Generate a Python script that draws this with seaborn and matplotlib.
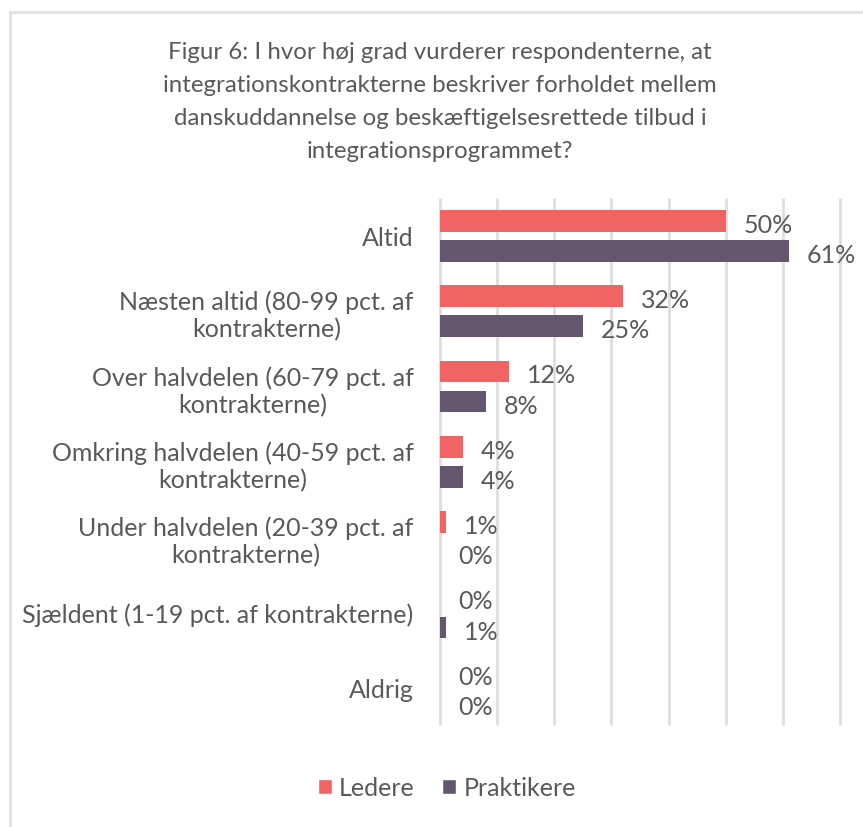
import matplotlib.pyplot as plt
import pandas as pd
import seaborn as sns
from matplotlib.lines import Line2D

# DATA
kategorier = [
    "Altid",
    "Næsten altid (80-99 pct. af\nkontrakterne)",
    "Over halvdelen (60-79 pct. af\nkontrakterne)",
    "Omkring halvdelen (40-59 pct. af\nkontrakterne)",
    "Under halvdelen (20-39 pct. af\nkontrakterne)",
    "Sjældent (1-19 pct. af kontrakterne)",
    "Aldrig",
]
ledere = [50, 32, 12, 4, 1, 0, 0]
praktikere = [61, 25, 8, 4, 0, 1, 0]
grupper = ["Ledere", "Praktikere"]
farver = ["#F16464", "#655670"]
titel = (
    "Figur 6: I hvor høj grad vurderer respondenterne, at\n"
    "integrationskontrakterne beskriver forholdet mellem\n"
    "danskuddannelse og beskæftigelsesrettede tilbud i\n"
    "integrationsprogrammet?"
)

df = pd.DataFrame(
    {
        "kategori": kategorier * 2,
        "andel": ledere + praktikere,
        "gruppe": [grupper[0]] * len(kategorier) + [grupper[1]] * len(kategorier),
    }
)

sns.set_style("white")
plt.rcParams["font.family"] = ["Lato", "DejaVu Sans"]
tekst_farve = "#595959"

fig = plt.figure(figsize=(8.63, 8.28), dpi=100)
ax = fig.add_axes([440 / 863, 1 - 725 / 828, 400 / 863, 525 / 828])

sns.barplot(
    data=df,
    y="kategori",
    x="andel",
    hue="gruppe",
    orient="h",
    palette=farver,
    saturation=1,
    linewidth=0,
    width=0.8,
    gap=0.28,
    errorbar=None,
    legend=False,
    ax=ax,
)

# dataetiketter, lidt ned så de flugter med søjlerne
for c in ax.containers:
    etiketter = ax.bar_label(c, fmt="%.0f%%", padding=13, fontsize=18, color=tekst_farve)
    for t in etiketter:
        t.xyann = (13, -2.5)

ax.set_xlim(0, 70)
ax.set_xticks(range(0, 71, 10))
ax.set_ylim(6.48, -0.49)
ax.set_axisbelow(True)
ax.grid(axis="x", color="#DEDEDE", linewidth=2)
for gl in ax.get_xgridlines():
    gl.set_clip_on(False)
ax.tick_params(axis="x", length=0, labelbottom=False)
ax.tick_params(axis="y", length=0, pad=19, labelsize=18, labelcolor=tekst_farve)
for lbl in ax.get_yticklabels():
    lbl.set_multialignment("center")
    lbl.set_linespacing(1.2)
ax.set_xlabel("")
ax.set_ylabel("")
sns.despine(ax=ax, left=True, bottom=True)

# titel
fig.text(
    440 / 863,
    1 - 102 / 828,
    titel,
    ha="center",
    va="center",
    multialignment="center",
    fontsize=17.3,
    linespacing=1.72,
    color=tekst_farve,
)

# forklaring
handles = [
    plt.Rectangle((0, 0), 1, 1, facecolor=farver[0]),
    plt.Rectangle((0, 0), 1, 1, facecolor=farver[1]),
]
fig.legend(
    handles,
    grupper,
    loc="center",
    bbox_to_anchor=(447 / 863, 1 - 789 / 828),
    ncol=2,
    frameon=False,
    fontsize=18,
    handlelength=0.55,
    handleheight=0.55,
    handletextpad=0.3,
    columnspacing=1.1,
    labelcolor=tekst_farve,
)

# grå ramme (venstre og top)
fig.add_artist(Line2D([9.5 / 863, 9.5 / 863], [0, 1 - 13 / 828], color="#E4E4E4", linewidth=2.2, transform=fig.transFigure))
fig.add_artist(Line2D([9.5 / 863, 1], [1 - 13 / 828, 1 - 13 / 828], color="#E4E4E4", linewidth=2.2, transform=fig.transFigure))

fig.savefig("out.png", dpi=100)
